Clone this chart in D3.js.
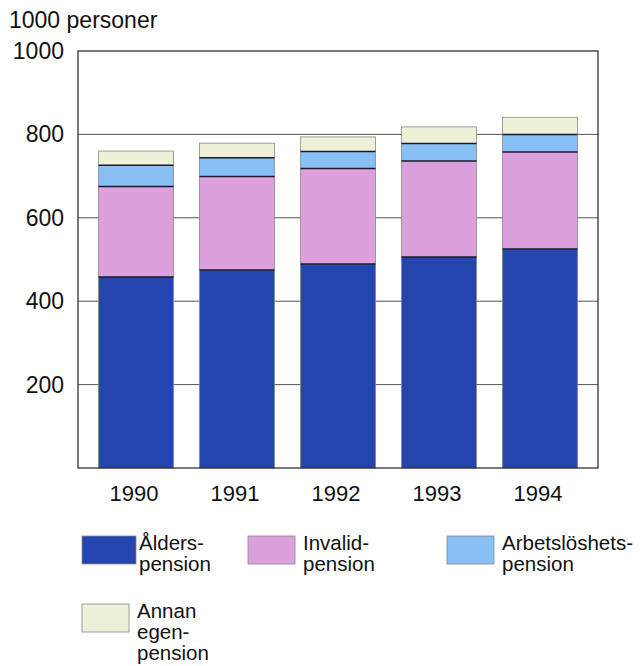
<!DOCTYPE html>
<html>
<head>
<meta charset="utf-8">
<script src="https://cdn.jsdelivr.net/npm/d3@7"></script>
<style>
  body { margin: 0; background: #fff; }
  text { font-family: "Liberation Sans", Arial, sans-serif; fill: #111; }
</style>
</head>
<body>
<script>
// pensioners per year, thousands, stacked bottom to top
const years = ["1990", "1991", "1992", "1993", "1994"];
const alders = [458, 475, 489, 506, 525];
const invalid = [217, 224, 229, 230, 233];
const arbetsloshets = [51, 45, 41, 42, 42];
const annan = [34, 35, 35, 40, 41];
const yTicks = [200, 400, 600, 800, 1000];

const seriesNames = ["Ålders-pension", "Invalid-pension", "Arbetslöshets-pension", "Annan egen-pension"];
const seriesColors = ["#2444b0", "#dca0dc", "#88c0f5", "#eef0d8"];

const w = 644, h = 666;
const margin = {top: 51, left: 78, right: 46, bottom: 198};

const svg = d3.select("body").append("svg")
    .attr("width", w)
    .attr("height", h);

const rows = years.map((y, i) => ({
  year: y, s0: alders[i], s1: invalid[i], s2: arbetsloshets[i], s3: annan[i]
}));
const stacked = d3.stack().keys(["s0", "s1", "s2", "s3"])(rows);

const x = d3.scaleBand()
    .domain(years)
    .range([margin.left, w - margin.right])
    .paddingInner(0.257)
    .paddingOuter(0.203);

const y = d3.scaleLinear()
    .domain([0, 1000])
    .range([h - margin.bottom, margin.top]);

// gridlines
svg.append("g")
  .selectAll("line")
  .data(yTicks.slice(0, -1))
  .join("line")
    .attr("x1", margin.left).attr("x2", w - margin.right)
    .attr("y1", d => y(d)).attr("y2", d => y(d))
    .attr("stroke", "#555").attr("stroke-width", 1);

// bars
svg.append("g")
  .selectAll("g")
  .data(stacked)
  .join("g")
    .attr("fill", (d, i) => seriesColors[i])
  .selectAll("rect")
  .data(d => d)
  .join("rect")
    .attr("x", d => x(d.data.year))
    .attr("y", d => y(d[1]))
    .attr("width", x.bandwidth())
    .attr("height", d => y(d[0]) - y(d[1]));

// thin outline around whole bar
svg.append("g")
  .selectAll("rect")
  .data(stacked[3])
  .join("rect")
    .attr("x", d => x(d.data.year))
    .attr("y", d => y(d[1]))
    .attr("width", x.bandwidth())
    .attr("height", d => y(0) - y(d[1]))
    .attr("fill", "none")
    .attr("stroke", "#888")
    .attr("stroke-width", 0.8);

// dark divider lines between segments (top of the lower three)
svg.append("g")
  .selectAll("g")
  .data(stacked.slice(0, 3))
  .join("g")
  .selectAll("line")
  .data(d => d)
  .join("line")
    .attr("x1", d => x(d.data.year))
    .attr("x2", d => x(d.data.year) + x.bandwidth())
    .attr("y1", d => y(d[1]))
    .attr("y2", d => y(d[1]))
    .attr("stroke", "#1a1a2a")
    .attr("stroke-width", 1.5);

// frame
svg.append("rect")
  .attr("x", margin.left).attr("y", margin.top)
  .attr("width", w - margin.left - margin.right)
  .attr("height", y(0) - margin.top)
  .attr("fill", "none").attr("stroke", "#222").attr("stroke-width", 1.2);

// y tick labels
svg.append("g")
  .selectAll("text")
  .data(yTicks)
  .join("text")
    .attr("x", 64)
    .attr("y", d => y(d) + 8)
    .attr("text-anchor", "end")
    .attr("font-size", 23)
    .text(d => d);

svg.append("text")
  .attr("x", 9).attr("y", 28)
  .attr("font-size", 23)
  .text("1000 personer");

// x labels
svg.append("g")
  .selectAll("text")
  .data(years)
  .join("text")
    .attr("x", d => x(d) + x.bandwidth() / 2 - 2)
    .attr("y", 501)
    .attr("text-anchor", "middle")
    .attr("font-size", 22)
    .text(d => d);

// legend
const legendPos = [[82, 536], [248, 536], [447, 536], [82, 604]];
const legendLines = [["Ålders-", "pension"], ["Invalid-", "pension"], ["Arbetslöshets-", "pension"], ["Annan", "egen-", "pension"]];
const lg = svg.append("g")
  .selectAll("g")
  .data(seriesNames)
  .join("g")
    .attr("transform", (d, i) => `translate(${legendPos[i][0]},${legendPos[i][1]})`);

lg.append("rect")
  .attr("width", (d, i) => i === 0 ? 54 : 47)
  .attr("height", 28)
  .attr("fill", (d, i) => seriesColors[i])
  .attr("stroke", "#888").attr("stroke-width", 0.8);

lg.append("text")
  .attr("x", (d, i) => i === 0 ? 57 : 55)
  .attr("y", 14)
  .attr("font-size", 20.5)
  .selectAll("tspan")
  .data((d, i) => legendLines[i])
  .join("tspan")
    .attr("x", function () { return this.parentNode.getAttribute("x"); })
    .attr("dy", (d, j) => j === 0 ? 0 : 21)
    .text(d => d);
</script>
</body>
</html>
